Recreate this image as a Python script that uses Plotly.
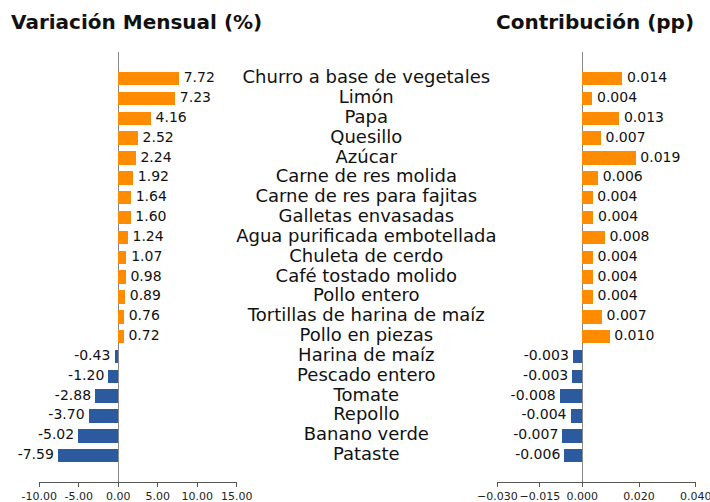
import plotly.graph_objects as go

categories = ["Churro a base de vegetales", "Limón", "Papa", "Quesillo", "Azúcar",
              "Carne de res molida", "Carne de res para fajitas", "Galletas envasadas",
              "Agua purificada embotellada", "Chuleta de cerdo", "Café tostado molido",
              "Pollo entero", "Tortillas de harina de maíz", "Pollo en piezas",
              "Harina de maíz", "Pescado entero", "Tomate", "Repollo", "Banano verde", "Pataste"]
variacion = [7.72, 7.23, 4.16, 2.52, 2.24, 1.92, 1.64, 1.60, 1.24, 1.07, 0.98, 0.89, 0.76, 0.72,
             -0.43, -1.20, -2.88, -3.70, -5.02, -7.59]
contribucion = [0.0142, 0.0036, 0.0131, 0.0066, 0.0189, 0.0056, 0.0037, 0.0040, 0.0080, 0.0038,
                0.0038, 0.0038, 0.0070, 0.0097, -0.0032, -0.0034, -0.0078, -0.0040, -0.0069, -0.0062]

left_tickvals = [-10, -5, 0, 5, 10, 15]
left_ticktext = ["-10.00", "-5.00", "0.00", "5.00", "10.00", "15.00"]
right_tickvals = [-0.03, -0.015, 0, 0.02, 0.04]
right_ticktext = ["\u22120.030", "\u22120.015", "0.000", "0.020", "0.040"]

ORANGE = "#FF8C00"
BLUE = "#2C5A9E"
FONT = "DejaVu Sans"
W, H = 710, 502

def colors(vals):
    return [ORANGE if v >= 0 else BLUE for v in vals]

def positions(vals):
    return ["middle right" if v >= 0 else "middle left" for v in vals]

def labels(vals, fmt):
    return [(" " + fmt.format(v)) if v >= 0 else (fmt.format(v) + " ") for v in vals]

fig = go.Figure()
# Left panel
fig.add_trace(go.Bar(x=variacion, y=categories, orientation="h", width=0.68,
                     marker=dict(color=colors(variacion), line=dict(width=0)),
                     xaxis="x", yaxis="y", hoverinfo="skip", showlegend=False))
fig.add_trace(go.Scatter(x=variacion, y=categories, mode="text",
                         text=labels(variacion, "{:.2f}"), textposition=positions(variacion),
                         textfont=dict(family=FONT, size=14, color="#111"),
                         xaxis="x", yaxis="y", hoverinfo="skip", showlegend=False, cliponaxis=False))
# Right panel
fig.add_trace(go.Bar(x=contribucion, y=categories, orientation="h", width=0.68,
                     marker=dict(color=colors(contribucion), line=dict(width=0)),
                     xaxis="x2", yaxis="y", hoverinfo="skip", showlegend=False))
fig.add_trace(go.Scatter(x=contribucion, y=categories, mode="text",
                         text=labels(contribucion, "{:.3f}"), textposition=positions(contribucion),
                         textfont=dict(family=FONT, size=14, color="#111"),
                         xaxis="x2", yaxis="y", hoverinfo="skip", showlegend=False, cliponaxis=False))
# Middle labels
fig.add_trace(go.Scatter(x=[0] * len(categories), y=categories, mode="text",
                         text=categories, textposition="middle center",
                         textfont=dict(family=FONT, size=18, color="#111"),
                         xaxis="x3", yaxis="y", hoverinfo="skip", showlegend=False, cliponaxis=False))

ydom = [(H - 482) / H, (H - 52) / H]
axis_common = dict(showgrid=False, zeroline=True, zerolinecolor="#888", zerolinewidth=1,
                   showline=True, linecolor="#555", linewidth=1, ticks="outside", ticklen=4,
                   tickcolor="#555", tickfont=dict(family=FONT, size=11, color="#222"),
                   tickangle=0, automargin=False, anchor="y", fixedrange=True,
                   ticklabeloverflow="allow")

fig.update_layout(
    width=W, height=H, margin=dict(l=0, r=0, t=0, b=0, pad=0, autoexpand=False),
    plot_bgcolor="white", paper_bgcolor="white",
    xaxis=dict(domain=[39.3 / W, 236.7 / W], range=[-10, 15], tickvals=left_tickvals,
               ticktext=left_ticktext, **axis_common),
    xaxis2=dict(domain=[497.3 / W, 695.7 / W], range=[-0.03, 0.04], tickvals=right_tickvals,
                ticktext=right_ticktext, **axis_common),
    xaxis3=dict(domain=[250 / W, 482.6 / W], range=[-1, 1], visible=False, anchor="y",
                automargin=False),
    yaxis=dict(domain=ydom, type="category", categoryorder="array",
               categoryarray=categories[::-1], range=[-1.33, 20.346], visible=False,
               fixedrange=True, automargin=False),
    bargap=0,
    annotations=[
        dict(text="<b>Variación Mensual (%)</b>", xref="paper", yref="paper",
             x=9 / W, y=(H - 22) / H, xanchor="left", yanchor="middle", showarrow=False,
             font=dict(family=FONT, size=20, color="#111")),
        dict(text="<b>Contribución (pp)</b>", xref="paper", yref="paper",
             x=695.7 / W, y=(H - 22) / H, xanchor="right", yanchor="middle", showarrow=False,
             font=dict(family=FONT, size=20, color="#111")),
    ],
)

fig.write_html("out.html", config={"displayModeBar": False},
               post_script="document.body.style.margin='0px';document.body.style.overflow='hidden';")
